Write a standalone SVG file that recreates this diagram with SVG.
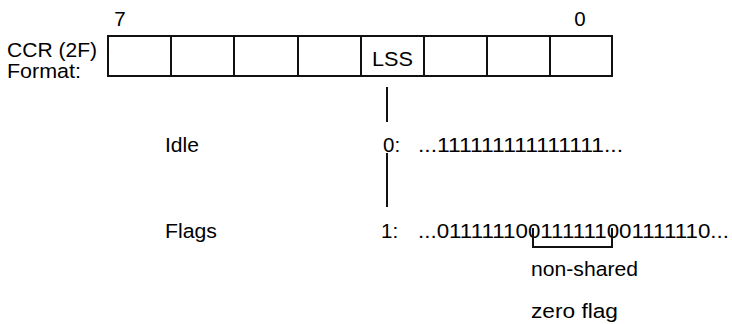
<svg xmlns="http://www.w3.org/2000/svg" width="732" height="324" viewBox="0 0 732 324">
<style>
  text { font-family: "Liberation Sans", Arial, Helvetica, sans-serif; font-size: 20.5px; fill: #000; }
  .mid { text-anchor: middle; }
  .cell { fill: #fff; stroke: #111; stroke-width: 2; }
  .wire { fill: none; stroke: #111; stroke-width: 2; }
</style>
<rect width="732" height="324" fill="#fff"/>
<g id="register-label">
  <text x="7" y="57" textLength="90" lengthAdjust="spacingAndGlyphs">CCR (2F)</text>
  <text x="7" y="78" textLength="74" lengthAdjust="spacingAndGlyphs">Format:</text>
</g>
<g id="bit-numbers">
  <text class="mid" x="120" y="26">7</text>
  <text class="mid" x="580" y="26">0</text>
</g>
<g id="register">
  <rect class="cell" x="108" y="36" width="63" height="40"/>
  <rect class="cell" x="171" y="36" width="63" height="40"/>
  <rect class="cell" x="234" y="36" width="64" height="40"/>
  <rect class="cell" x="298" y="36" width="63" height="40"/>
  <rect class="cell" x="361" y="36" width="63" height="40"/>
  <rect class="cell" x="424" y="36" width="63" height="40"/>
  <rect class="cell" x="487" y="36" width="63" height="40"/>
  <rect class="cell" x="550" y="36" width="62" height="40"/>
  <text x="372" y="66" textLength="41" lengthAdjust="spacingAndGlyphs">LSS</text>
</g>
<g id="idle">
  <text x="165" y="152" textLength="34" lengthAdjust="spacingAndGlyphs">Idle</text>
  <text x="383" y="152">0:</text>
  <text x="418" y="152" textLength="205" lengthAdjust="spacingAndGlyphs">...111111111111111...</text>
</g>
<g id="flags">
  <text x="165" y="238" textLength="52" lengthAdjust="spacingAndGlyphs">Flags</text>
  <text x="381" y="238">1:</text>
  <text x="418" y="238" textLength="311" lengthAdjust="spacingAndGlyphs">...011111100111111001111110...</text>
</g>
<g id="note">
  <text x="531" y="276" textLength="107" lengthAdjust="spacingAndGlyphs">non-shared</text>
  <text x="531" y="318" textLength="87" lengthAdjust="spacingAndGlyphs">zero flag</text>
</g>
<g id="connectors">
  <line class="wire" x1="387" y1="87" x2="387" y2="122"/>
  <line class="wire" x1="387" y1="153" x2="387" y2="207"/>
  <path class="wire" d="M533 228 V247 H612 V228"/>
</g>
</svg>
